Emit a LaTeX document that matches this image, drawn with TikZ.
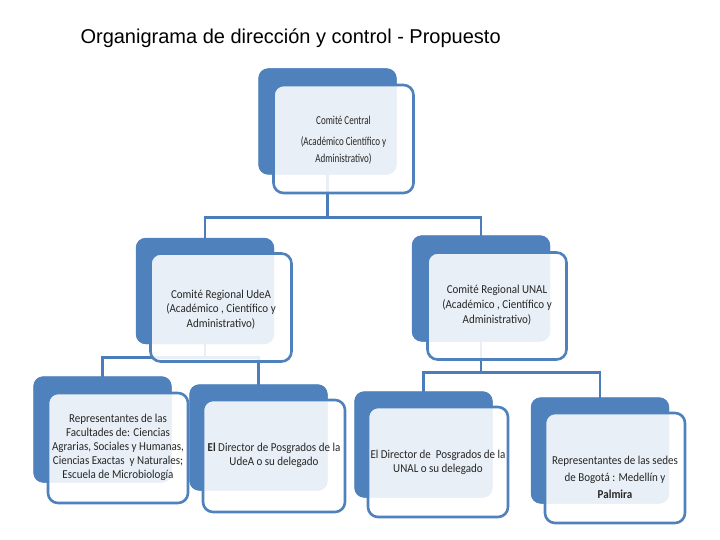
\documentclass[tikz,border=0pt]{standalone}
\usepackage{fontspec}
\setmainfont{Carlito}
\newfontfamily\titlefont{Liberation Sans}
\usetikzlibrary{calc}
\definecolor{obblue}{HTML}{4F81BD}
\definecolor{oblink}{HTML}{4A7DBA}
\newcommand\btext[3]{\scalebox{#1}[1.1]{\parbox{160pt}{\centering\fontsize{11}{#2}\selectfont #3}}}
\begin{document}
\begin{tikzpicture}[x=1pt,y=-1pt,
  backbox/.style={fill=obblue, rounded corners=10pt, minimum width=138pt, minimum height=106pt, inner sep=0pt},
  frontbox/.style={draw=obblue, line width=2.6pt, fill=white, fill opacity=0.88,
     rounded corners=10pt, inner sep=0pt},
  boxtext/.style={inner sep=0pt, text=black!85, align=center},
  link/.style={draw=oblink, line width=2.6pt}]
\useasboundingbox (0,0) rectangle (720,540);
\node[anchor=base west, font=\titlefont\fontsize{20}{22}\selectfont] (title) at (77,44) {Organigrama de dirección y control - Propuesto};
% back boxes
\node[backbox] (cb) at (327.5,121.5) {};
\node[backbox] (lb) at (205,291) {};
\node[backbox] (rb) at (481,288.5) {};
\node[backbox] (b1b) at (102.5,429.5) {};
\node[backbox] (b2b) at (258.5,437.5) {};
\node[backbox] (b3b) at (423.5,444.5) {};
\node[backbox] (b4b) at (600,450.5) {};
% connectors
\coordinate (j1) at ($(cb.south)+(0,43)$);
\coordinate (j2) at ($(lb.south)+(0,13)$);
\coordinate (j3) at ($(rb.south)+(0,31)$);
\draw[link] (cb.center) -- (j1) -| (lb.center);
\draw[link] (j1) -| (rb.center);
\draw[link] (lb.center) -- (j2) -| (b1b.center);
\draw[link] (j2) -| (b2b.center);
\draw[link] (rb.center) -- (j3) -| (b3b.center);
\draw[link] (j3) -| (b4b.center);
% redraw back boxes over connectors
\foreach \n in {cb,lb,rb,b1b,b2b,b3b,b4b}{\fill[obblue, rounded corners=10pt] (\n.south west) rectangle (\n.north east);}
% front boxes
\node[frontbox, minimum width=140pt, minimum height=108pt] (cf) at ($(cb)+(16,17.5)$) {};
\node[frontbox, minimum width=141pt, minimum height=108pt] (lf) at ($(lb)+(16,16.5)$) {};
\node[frontbox, minimum width=139pt, minimum height=107pt] (rf) at ($(rb)+(16,17.5)$) {};
\node[frontbox, minimum width=140pt, minimum height=110pt] (b1f) at ($(b1b)+(15.5,18.5)$) {};
\node[frontbox, minimum width=142pt, minimum height=112pt] (b2f) at ($(b2b)+(15.5,18.5)$) {};
\node[frontbox, minimum width=140pt, minimum height=110pt] (b3f) at ($(b3b)+(14.5,17.5)$) {};
\node[frontbox, minimum width=140pt, minimum height=110pt] (b4f) at ($(b4b)+(15,17.5)$) {};
% texts
\node[boxtext] (ct) at ($(cf.center)+(0,1)$)
  {\btext{0.82}{15.5}{Comité Central\\[3pt](Académico Científico y\\Administrativo)}};
\node[boxtext] (lt) at ($(lf.center)+(0,2)$)
  {\btext{1}{13.2}{Comité Regional UdeA\\(Académico , Científico y\\Administrativo)}};
\node[boxtext] (rt) at ($(rf.center)+(0,-1)$)
  {\btext{1}{13.8}{Comité Regional UNAL\\(Académico , Científico y\\Administrativo)}};
\node[boxtext] (b1t) at ($(b1f.center)+(0,-1)$)
  {\btext{1}{12.7}{Representantes de las\\Facultades de: Ciencias\\Agrarias, Sociales y Humanas,\\Ciencias Exactas\ \ y Naturales;\\Escuela de Microbiología}};
\node[boxtext] (b2t) at ($(b2f.center)+(0,-1)$)
  {\btext{1}{12.5}{\textbf{El} Director de Posgrados de la\\UdeA o su delegado}};
\node[boxtext] (b3t) at ($(b3f.center)+(0,0)$)
  {\btext{1}{12.5}{El Director de\ \ Posgrados de la\\UNAL o su delegado}};
\node[boxtext] (b4t) at ($(b4f.center)+(0,9)$)
  {\btext{1}{15.5}{Representantes de las sedes\\de Bogotá : Medellín y\\\textbf{Palmira}}};
\end{tikzpicture}
\end{document}
